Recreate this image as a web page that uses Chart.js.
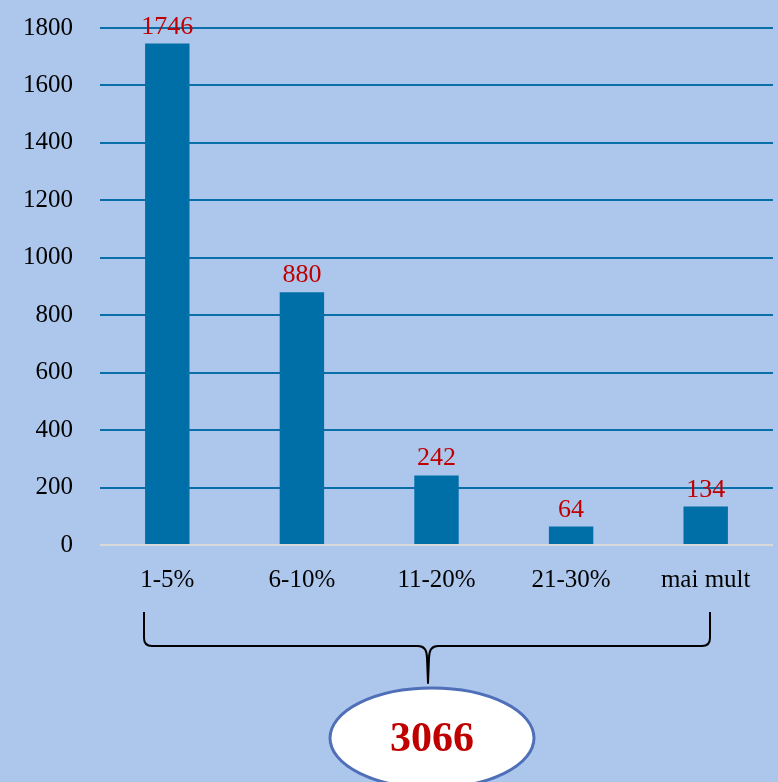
<!DOCTYPE html>
<html>
<head>
<meta charset="utf-8">
<script src="https://cdn.jsdelivr.net/npm/chart.js@4.4.1/dist/chart.umd.min.js"></script>
<style>
  html, body { margin: 0; padding: 0; background: #fff; }
  #wrap { width: 778px; height: 782px; position: relative; }
</style>
</head>
<body>
<div id="wrap"><canvas id="c" width="778" height="782"></canvas></div>
<script>
const categories = ['1-5%', '6-10%', '11-20%', '21-30%', 'mai mult'];
const values = [1746, 880, 242, 64, 134];
const yTicks = [0, 200, 400, 600, 800, 1000, 1200, 1400, 1600, 1800];
const total = values.reduce((a, b) => a + b, 0);

const FONT = "'Liberation Serif', 'DejaVu Serif', serif";

const bgPlugin = {
  id: 'bg',
  beforeDraw(chart) {
    const ctx = chart.ctx;
    ctx.save();
    ctx.fillStyle = '#adc7ec';
    ctx.fillRect(0, 0, chart.width, chart.height);
    ctx.restore();
  }
};

const labelPlugin = {
  id: 'vals',
  afterDatasetsDraw(chart) {
    const ctx = chart.ctx;
    const meta = chart.getDatasetMeta(0);
    ctx.save();
    ctx.font = '26px ' + FONT;
    ctx.fillStyle = '#c00000';
    ctx.textAlign = 'center';
    ctx.textBaseline = 'alphabetic';
    meta.data.forEach((bar, i) => {
      ctx.fillText(String(values[i]), bar.x, bar.y - 10);
    });
    ctx.restore();
  }
};

const bracePlugin = {
  id: 'brace',
  afterDraw(chart) {
    const ctx = chart.ctx;
    const x0 = 144, x1 = 710, xm = 428;
    const yTop = 612, yH = 646, yTip = 683;
    ctx.save();
    ctx.strokeStyle = '#000';
    ctx.lineWidth = 2;
    ctx.lineJoin = 'round';
    ctx.beginPath();
    ctx.moveTo(x0, yTop);
    ctx.lineTo(x0, yH - 8);
    ctx.quadraticCurveTo(x0, yH, x0 + 8, yH);
    ctx.lineTo(xm - 10, yH);
    ctx.quadraticCurveTo(xm - 1, yH, xm - 1, yH + 12);
    ctx.lineTo(xm, yTip);
    ctx.lineTo(xm + 1, yH + 12);
    ctx.quadraticCurveTo(xm + 1, yH, xm + 10, yH);
    ctx.lineTo(x1 - 8, yH);
    ctx.quadraticCurveTo(x1, yH, x1, yH - 8);
    ctx.lineTo(x1, yTop);
    ctx.stroke();

    ctx.beginPath();
    ctx.ellipse(432, 738, 102, 50, 0, 0, Math.PI * 2);
    ctx.fillStyle = '#ffffff';
    ctx.fill();
    ctx.lineWidth = 3;
    ctx.strokeStyle = '#4f6fb8';
    ctx.stroke();

    ctx.font = 'bold 42px ' + FONT;
    ctx.fillStyle = '#c00000';
    ctx.textAlign = 'center';
    ctx.textBaseline = 'middle';
    ctx.fillText(String(total), 432, 740);
    ctx.restore();
  }
};

new Chart(document.getElementById('c'), {
  type: 'bar',
  data: {
    labels: categories,
    datasets: [{
      data: values,
      backgroundColor: '#006fa8',
      borderWidth: 0,
      barPercentage: 0.33,
      categoryPercentage: 1.0
    }]
  },
  options: {
    responsive: false,
    animation: false,
    devicePixelRatio: 1,
    layout: { padding: { top: 28, right: 5, left: 0, bottom: 0 } },
    plugins: { legend: { display: false }, tooltip: { enabled: false } },
    scales: {
      x: {
        grid: { display: false, drawTicks: false },
        border: { display: false },
        ticks: { color: '#000', font: { family: FONT, size: 25 }, padding: 20, maxRotation: 0 },
        afterFit(s) { s.height = 237; }
      },
      y: {
        min: 0, max: 1800,
        afterBuildTicks(s) { s.ticks = yTicks.map(v => ({ value: v })); },
        grid: {
          drawTicks: false,
          lineWidth: 2,
          color: (c) => c.tick && c.tick.value === 0 ? '#d9d9d9' : '#0a6fa8'
        },
        border: { display: false },
        ticks: {
          color: '#000', font: { family: FONT, size: 25 }, padding: 27,
          callback: (v) => String(v)
        },
        afterFit(s) { s.width = 100; s.paddingTop = 0; s.paddingBottom = 0; }
      }
    }
  },
  plugins: [bgPlugin, labelPlugin, bracePlugin]
});
</script>
</body>
</html>
